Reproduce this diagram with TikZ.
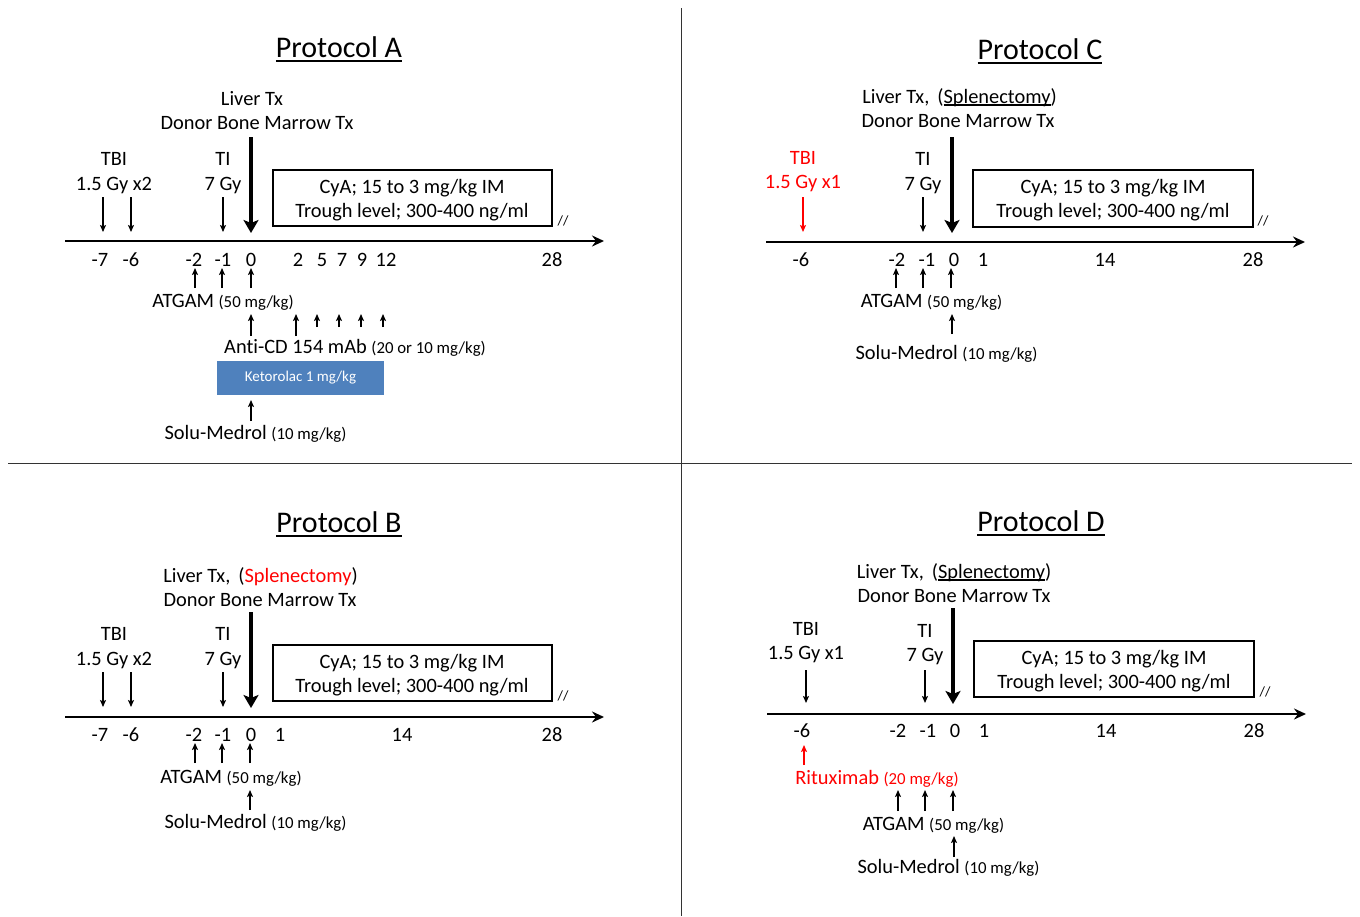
\documentclass[tikz,border=0pt]{standalone}
\usepackage{fontspec}
\setmainfont{Carlito}[Ligatures=NoCommon]
\usetikzlibrary{arrows.meta}
\definecolor{ketblue}{HTML}{4F81BD}
\newsavebox\ulbox
\newcommand\myul[3]{\sbox\ulbox{#3}\rlap{\rule[-#1]{\wd\ulbox}{#2}}\usebox\ulbox}
\newcommand\mk[5]{\coordinate (#1s) at (#2,#3); \coordinate (#1e) at (#2,#4); \draw[#5] (#1s) -- (#1e);}
\tikzset{
  t/.style={anchor=base, inner sep=0pt, font=\fontsize{20.4}{24}\selectfont},
  ttl/.style={anchor=base, inner sep=0pt, font=\fontsize{30}{36}\selectfont},
  sl/.style={anchor=center, inner sep=0pt, font=\fontsize{14}{16}\selectfont},
  thinarr/.style={line width=1.3pt, -{Stealth[length=7pt,width=6pt,inset=1.5pt]}},
  thickarr/.style={line width=3.6pt, -{Stealth[length=13pt,width=15pt,inset=3pt]}},
  axisarr/.style={line width=2pt, -{Stealth[length=12pt,width=11pt,inset=4pt]}},
  cybox/.style={draw, line width=1.5pt},
  divider/.style={line width=1pt, draw=black!80},
}
\newcommand\smallf{\fontsize{16.8}{19}\selectfont}
\begin{document}
\begin{tikzpicture}[x=1pt,y=-1pt]
\useasboundingbox (0,0) rectangle (1360,916);
% dividers
\coordinate (vt) at (681,8); \coordinate (vb) at (681,916);
\coordinate (hl) at (8,463); \coordinate (hr) at (1352,463);
\draw[divider] (vt) -- (vb);
\draw[divider] (hl) -- (hr);

%================ Protocol A ================
\node[ttl] (tA) at (339,57) {\myul{4.8pt}{1.6pt}{Protocol A}};
\node[t] (A-liv) at (252,105) {Liver Tx};
\node[t] (A-don) at (257,129) {Donor Bone Marrow Tx};
\mk{A-big}{251}{137}{233}{thickarr}
\node[t] (A-tbi) at (114,165) {TBI};
\node[t] (A-tbid) at (114,190) {1.5 Gy x2};
\mk{A-t1}{103}{197}{232}{thinarr}
\mk{A-t2}{131}{197}{232}{thinarr}
\node[t] (A-ti) at (223,165) {TI};
\node[t] (A-tid) at (223,190) {7 Gy};
\mk{A-ti}{223}{197}{232}{thinarr}
\draw[cybox] (273,170) rectangle (552,226);
\node[t] (A-cy1) at (412,193) {CyA; 15 to 3 mg/kg IM};
\node[t] (A-cy2) at (412,217) {Trough level; 300-400 ng/ml};
\node[sl] (A-brk) at (563,221) {//};
\coordinate (A-ax0) at (65,241); \coordinate (A-ax1) at (604,241);
\draw[axisarr] (A-ax0) -- (A-ax1);
\foreach \x/\l [count=\i] in {100/-7,131/-6,194/-2,223/-1,251/0,298/2,322/5,342/7,362/9,386/12,552/28}
  \node[t] (A-k\i) at (\x,266) {\l};
\mk{A-g1}{195}{288}{268}{thinarr}
\mk{A-g2}{222}{288}{268}{thinarr}
\mk{A-g3}{251}{288}{268}{thinarr}
\node[t] (A-atg) at (223,307) {ATGAM {\smallf(50 mg/kg)}};
\mk{A-c1}{251}{336}{314}{thinarr}
\mk{A-c2}{296}{336}{314}{thinarr}
\mk{A-c3}{317}{327}{314}{thinarr}
\mk{A-c4}{339}{327}{314}{thinarr}
\mk{A-c5}{361}{327}{314}{thinarr}
\mk{A-c6}{383}{327}{314}{thinarr}
\node[t] (A-cd) at (355,353) {Anti-CD 154 mAb {\smallf(20 or 10 mg/kg)}};
\node[fill=ketblue, minimum width=167pt, minimum height=34pt, inner sep=0pt,
      text=white, font=\fontsize{15}{17}\selectfont] (A-ket) at (300.5,378) {Ketorolac 1 mg/kg};
\mk{A-s}{251}{421}{400}{thinarr}
\node[t] (A-sol) at (255.5,439) {Solu-Medrol {\smallf(10 mg/kg)}};

%================ Protocol B ================
\node[ttl] (tB) at (339,532) {\myul{4.8pt}{1.6pt}{Protocol B}};
\node[t] (B-liv) at (260.5,582) {Liver Tx,\, ({\color{red}Splenectomy})};
\node[t] (B-don) at (260,606) {Donor Bone Marrow Tx};
\mk{B-big}{251}{612}{708}{thickarr}
\node[t] (B-tbi) at (114,640) {TBI};
\node[t] (B-tbid) at (114,665) {1.5 Gy x2};
\mk{B-t1}{103}{672}{707}{thinarr}
\mk{B-t2}{131}{672}{707}{thinarr}
\node[t] (B-ti) at (223,640) {TI};
\node[t] (B-tid) at (223,665) {7 Gy};
\mk{B-ti}{223}{672}{707}{thinarr}
\draw[cybox] (273,645) rectangle (552,701);
\node[t] (B-cy1) at (412,668) {CyA; 15 to 3 mg/kg IM};
\node[t] (B-cy2) at (412,692) {Trough level; 300-400 ng/ml};
\node[sl] (B-brk) at (563,696) {//};
\coordinate (B-ax0) at (65,717); \coordinate (B-ax1) at (604,717);
\draw[axisarr] (B-ax0) -- (B-ax1);
\foreach \x/\l [count=\i] in {100/-7,131/-6,194/-2,223/-1,251/0,280/1,402/14,552/28}
  \node[t] (B-k\i) at (\x,741) {\l};
\mk{B-g1}{195}{763}{743}{thinarr}
\mk{B-g2}{222}{763}{743}{thinarr}
\mk{B-g3}{250}{763}{743}{thinarr}
\node[t] (B-atg) at (231,783) {ATGAM {\smallf(50 mg/kg)}};
\mk{B-s}{250}{810}{790}{thinarr}
\node[t] (B-sol) at (255.5,828) {Solu-Medrol {\smallf(10 mg/kg)}};

%================ Protocol C ================
\node[ttl] (tC) at (1040,59) {\myul{4.8pt}{1.6pt}{Protocol C}};
\node[t] (C-liv) at (959.5,103) {Liver Tx,\, (\myul{2.6pt}{1.2pt}{Splenectomy})};
\node[t] (C-don) at (958,127) {Donor Bone Marrow Tx};
\mk{C-big}{952}{137}{233}{thickarr}
\node[t, text=red] (C-tbi) at (803,164) {TBI};
\node[t, text=red] (C-tbid) at (803,188) {1.5 Gy x1};
\mk{C-t1}{803}{197}{232}{thinarr, draw=red}
\node[t] (C-ti) at (923,165) {TI};
\node[t] (C-tid) at (923,190) {7 Gy};
\mk{C-ti}{923}{197}{232}{thinarr}
\draw[cybox] (973,170) rectangle (1253,227);
\node[t] (C-cy1) at (1113,193) {CyA; 15 to 3 mg/kg IM};
\node[t] (C-cy2) at (1113,217) {Trough level; 300-400 ng/ml};
\node[sl] (C-brk) at (1263,221) {//};
\coordinate (C-ax0) at (766,242); \coordinate (C-ax1) at (1305,242);
\draw[axisarr] (C-ax0) -- (C-ax1);
\foreach \x/\l [count=\i] in {801/-6,897/-2,927/-1,954/0,983/1,1105/14,1253/28}
  \node[t] (C-k\i) at (\x,266) {\l};
\mk{C-g1}{896}{288}{268}{thinarr}
\mk{C-g2}{923}{288}{268}{thinarr}
\mk{C-g3}{951}{288}{268}{thinarr}
\node[t] (C-atg) at (931.5,307) {ATGAM {\smallf(50 mg/kg)}};
\mk{C-s}{952}{334}{314}{thinarr}
\node[t] (C-sol) at (946.5,359) {Solu-Medrol {\smallf(10 mg/kg)}};

%================ Protocol D ================
\node[ttl] (tD) at (1041,531) {\myul{4.8pt}{1.6pt}{Protocol D}};
\node[t] (D-liv) at (954,578) {Liver Tx,\, (\myul{2.6pt}{1.2pt}{Splenectomy})};
\node[t] (D-don) at (954,602) {Donor Bone Marrow Tx};
\mk{D-big}{953}{608}{704}{thickarr}
\node[t] (D-tbi) at (806,635) {TBI};
\node[t] (D-tbid) at (806,659) {1.5 Gy x1};
\mk{D-t1}{806}{670}{703}{thinarr}
\node[t] (D-ti) at (925,637) {TI};
\node[t] (D-tid) at (925,661) {7 Gy};
\mk{D-ti}{925}{670}{703}{thinarr}
\draw[cybox] (974,641) rectangle (1254,697);
\node[t] (D-cy1) at (1114,664) {CyA; 15 to 3 mg/kg IM};
\node[t] (D-cy2) at (1114,688) {Trough level; 300-400 ng/ml};
\node[sl] (D-brk) at (1265,692) {//};
\coordinate (D-ax0) at (767,714); \coordinate (D-ax1) at (1306,714);
\draw[axisarr] (D-ax0) -- (D-ax1);
\foreach \x/\l [count=\i] in {802/-6,898/-2,928/-1,955/0,984/1,1106/14,1254/28}
  \node[t] (D-k\i) at (\x,737) {\l};
\mk{D-r}{804}{765}{745}{thinarr, draw=red}
\node[t, text=red] (D-rit) at (877,784) {Rituximab {\smallf(20 mg/kg)}};
\mk{D-g1}{898}{811}{790}{thinarr}
\mk{D-g2}{925}{811}{790}{thinarr}
\mk{D-g3}{953}{811}{790}{thinarr}
\node[t] (D-atg) at (933.5,830) {ATGAM {\smallf(50 mg/kg)}};
\mk{D-s}{954}{857}{836}{thinarr}
\node[t] (D-sol) at (948.5,873) {Solu-Medrol {\smallf(10 mg/kg)}};
\end{tikzpicture}
\end{document}
